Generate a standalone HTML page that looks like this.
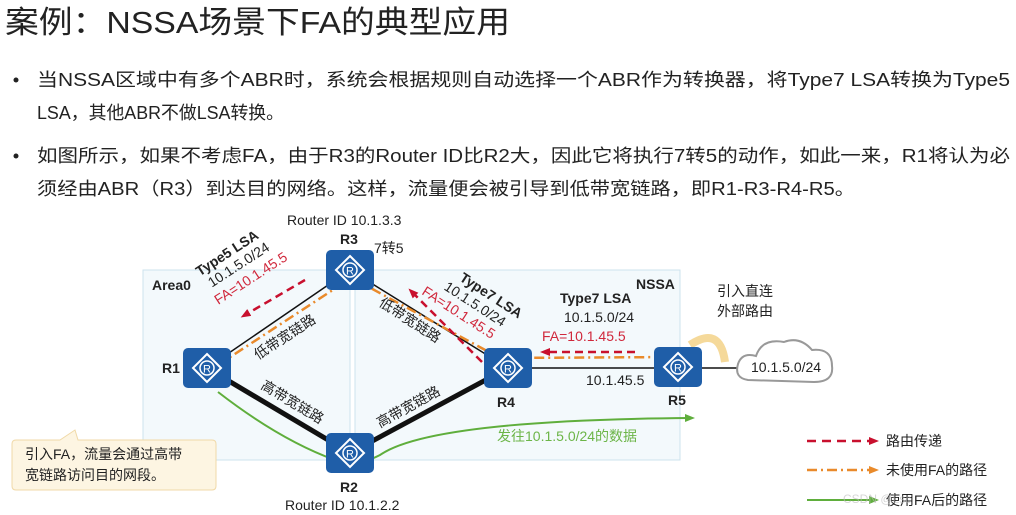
<!DOCTYPE html>
<html><head><meta charset="utf-8"><style>
body{margin:0;width:1016px;height:515px;background:#fff;overflow:hidden;font-family:"Liberation Sans","Noto Sans CJK SC",sans-serif}
</style></head><body>
<svg width="1016" height="515" viewBox="0 0 1016 515" xmlns="http://www.w3.org/2000/svg" style="position:absolute;left:0;top:0;font-family:'Liberation Sans','Noto Sans CJK SC',sans-serif">
<defs>
<marker id="ar" markerUnits="userSpaceOnUse" markerWidth="10" markerHeight="10" refX="5" refY="5" orient="auto"><path d="M0,1 L10,5 L0,9z" fill="#c8102e"/></marker>
<marker id="ag" markerUnits="userSpaceOnUse" markerWidth="10" markerHeight="10" refX="5" refY="5" orient="auto"><path d="M0,1 L10,5 L0,9z" fill="#5fae3c"/></marker>
<marker id="ao" markerUnits="userSpaceOnUse" markerWidth="10" markerHeight="10" refX="5" refY="5" orient="auto"><path d="M0,1 L10,5 L0,9z" fill="#e98a2b"/></marker>
<g id="rt"><rect x="-24" y="-20" width="48" height="40" rx="5" fill="#1f5ea8"/><path d="M0,-14 L14,0 L0,14 L-14,0z" fill="none" stroke="#fff" stroke-width="2"/><circle r="7" fill="none" stroke="#fff" stroke-width="1.5"/><text x="0" y="4.5" font-size="11" fill="#fff" text-anchor="middle">R</text></g>
</defs>
<text x="5" y="33" font-size="31" fill="#222" textLength="505" lengthAdjust="spacingAndGlyphs">案例：NSSA场景下FA的典型应用</text>
<g font-size="18" fill="#222">
<circle cx="16" cy="80" r="2.5"/><text x="37" y="86" textLength="973" lengthAdjust="spacingAndGlyphs">当NSSA区域中有多个ABR时，系统会根据规则自动选择一个ABR作为转换器，将Type7  LSA转换为Type5</text>
<text x="37" y="119" textLength="247" lengthAdjust="spacingAndGlyphs">LSA，其他ABR不做LSA转换。</text>
<circle cx="16" cy="156" r="2.5"/><text x="37" y="162" textLength="973" lengthAdjust="spacingAndGlyphs">如图所示，如果不考虑FA，由于R3的Router  ID比R2大，因此它将执行7转5的动作，如此一来，R1将认为必</text>
<text x="37" y="195" textLength="818" lengthAdjust="spacingAndGlyphs">须经由ABR（R3）到达目的网络。这样，流量便会被引导到低带宽链路，即R1-R3-R4-R5。</text>
</g>
<rect x="143" y="270" width="207" height="190" fill="#f3f9fc" stroke="#cde3ee"/>
<rect x="355" y="270" width="325" height="190" fill="#f3f9fc" stroke="#cde3ee"/>
<text x="152" y="290" font-size="14" font-weight="bold" fill="#222">Area0</text>
<text x="636" y="289" font-size="14" font-weight="bold" fill="#222">NSSA</text>
<line x1="207" y1="368" x2="350" y2="270" stroke="#111" stroke-width="1.5"/>
<line x1="350" y1="270" x2="508" y2="368" stroke="#111" stroke-width="1.5"/>
<line x1="207" y1="368" x2="350" y2="453" stroke="#111" stroke-width="5"/>
<line x1="350" y1="453" x2="508" y2="368" stroke="#111" stroke-width="5"/>
<line x1="508" y1="368" x2="740" y2="368" stroke="#111" stroke-width="1.5"/>
<path d="M218,365 L345,282 Q355,280 365,285 L500,358 L678,357" fill="none" stroke="#e98a2b" stroke-width="2.5" stroke-dasharray="10,4,2,4"/>
<path d="M218,392 Q280,440 335,460 Q355,468 380,455 Q430,420 690,418" fill="none" stroke="#5fae3c" stroke-width="2" marker-end="url(#ag)"/>
<path d="M305,280 L245,315" stroke="#c8102e" stroke-width="2.5" stroke-dasharray="8,5" marker-end="url(#ar)"/>
<path d="M482,362 L412,292" stroke="#c8102e" stroke-width="2.5" stroke-dasharray="8,5" marker-end="url(#ar)"/>
<path d="M635,352 L545,352" stroke="#c8102e" stroke-width="2.5" stroke-dasharray="8,5" marker-end="url(#ar)"/>
<path d="M725,362 Q720,325 690,345" fill="none" stroke="#f5d99a" stroke-width="8"/>
<path d="M352,262 a18,14 0 0 1 12,22" fill="none" stroke="#f5d99a" stroke-width="5"/>
<use href="#rt" x="207" y="368"/><use href="#rt" x="350" y="270"/><use href="#rt" x="508" y="368"/><use href="#rt" x="350" y="453"/><use href="#rt" x="678" y="367"/>
<g font-size="14" font-weight="bold" fill="#222">
<text x="162" y="373">R1</text><text x="340" y="244">R3</text><text x="497" y="407">R4</text><text x="340" y="492">R2</text><text x="668" y="405">R5</text>
</g>
<g font-size="14" fill="#222">
<text x="287" y="225">Router ID 10.1.3.3</text>
<text x="285" y="510">Router ID 10.1.2.2</text>
<text x="374" y="253">7转5</text>
<text x="586" y="385">10.1.45.5</text>
<text x="717" y="296">引入直连</text><text x="717" y="316">外部路由</text>
<text x="560" y="303" font-weight="bold">Type7 LSA</text>
<text x="564" y="322">10.1.5.0/24</text>
<text x="542" y="341" fill="#d0283c">FA=10.1.45.5</text>
<text x="497" y="441" fill="#6cb548">发往10.1.5.0/24的数据</text>
</g>
<g font-size="14" transform="translate(215,300) rotate(-33)">
<text x="0" y="-28" font-weight="bold" fill="#222">Type5 LSA</text>
<text x="4" y="-12" fill="#222">10.1.5.0/24</text>
<text x="0" y="6" fill="#d0283c">FA=10.1.45.5</text>
</g>
<g font-size="14" transform="translate(428,272) rotate(33)">
<text x="30" y="-10" font-weight="bold" fill="#222">Type7 LSA</text>
<text x="22" y="6" fill="#222">10.1.5.0/24</text>
<text x="6" y="22" fill="#d0283c">FA=10.1.45.5</text>
</g>
<g font-size="14" fill="#222">
<text transform="translate(258,360) rotate(-33)">低带宽链路</text>
<text transform="translate(378,305) rotate(33)">低带宽链路</text>
<text transform="translate(260,388) rotate(31)">高带宽链路</text>
<text transform="translate(380,428) rotate(-29)">高带宽链路</text>
</g>
<path d="M748,380 q-14,-2 -10,-16 q4,-12 18,-8 q6,-18 28,-14 q16,-6 28,8 q20,-2 20,16 q2,16 -18,16 z" fill="#fff" stroke="#999" stroke-width="2"/>
<text x="751" y="372" font-size="14" fill="#222">10.1.5.0/24</text>
<path d="M16,440 H60 L75,430 L78,440 H212 Q216,440 216,444 V486 Q216,490 212,490 H16 Q12,490 12,486 V444 Q12,440 16,440z" fill="#fdf5e2" stroke="#f0d9a8"/>
<text x="25" y="459" font-size="14" fill="#222">引入FA，流量会通过高带</text>
<text x="25" y="480" font-size="14" fill="#222">宽链路访问目的网段。</text>
<line x1="807" y1="441" x2="874" y2="441" stroke="#c8102e" stroke-width="2.5" stroke-dasharray="9,6" marker-end="url(#ar)"/>
<line x1="807" y1="470" x2="874" y2="470" stroke="#e98a2b" stroke-width="2.5" stroke-dasharray="10,4,2,4" marker-end="url(#ao)"/>
<line x1="807" y1="500" x2="874" y2="500" stroke="#5fae3c" stroke-width="2" marker-end="url(#ag)"/>
<g font-size="14" fill="#222"><text x="886" y="446">路由传递</text><text x="886" y="475">未使用FA的路径</text><text x="886" y="505">使用FA后的路径</text></g>
<text x="843" y="503" font-size="12" fill="#bbb" opacity="0.6">CSDN @Lsc</text>
</svg>
</body></html>
